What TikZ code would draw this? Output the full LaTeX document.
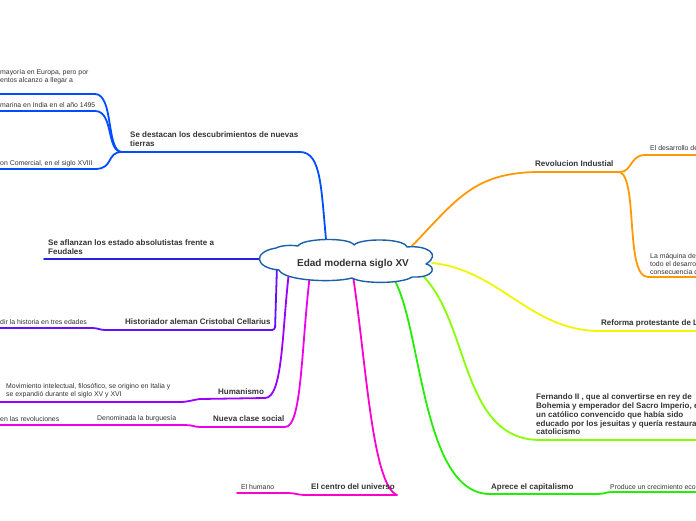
\documentclass[tikz,border=0pt]{standalone}
\usepackage{fontspec}
\setmainfont{Liberation Sans}
\definecolor{cBlue}{RGB}{0,76,255}
\definecolor{cDarkBlue}{RGB}{36,36,222}
\definecolor{cViolet}{RGB}{96,16,255}
\definecolor{cPurple}{RGB}{153,0,255}
\definecolor{cMagenta}{RGB}{236,0,236}
\definecolor{cPink}{RGB}{255,0,204}
\definecolor{cGreen}{RGB}{34,238,0}
\definecolor{cLime}{RGB}{136,255,0}
\definecolor{cYellow}{RGB}{240,245,0}
\definecolor{cOrange}{RGB}{255,153,0}
\definecolor{cCloud}{RGB}{25,95,170}
\definecolor{tgray}{RGB}{51,51,51}
\tikzset{
  branch/.style={line width=1.8pt, line cap=round, line join=round},
  topic/.style={font=\bfseries\fontsize{8}{9}\selectfont, text=tgray, inner sep=0pt, anchor=west, align=left},
  sub/.style={font=\fontsize{6.9}{8}\selectfont, text=tgray, inner sep=0pt, anchor=west, align=left},
  cloudline/.style={draw=cCloud, fill=white, line width=1.4pt, line join=round}
}
\begin{document}
\begin{tikzpicture}[x=1pt,y=-1pt]
\useasboundingbox (0,0) rectangle (696,520);

% ---------- anchor coordinates ----------
\coordinate (cTop) at (327,250);
\coordinate (cLeft) at (272,259);
\coordinate (cCell) at (277,266);
\coordinate (cHum) at (289,272);
\coordinate (cNue) at (310,274);
\coordinate (cCen) at (353,276);
\coordinate (cCap) at (392,276);
\coordinate (cFer) at (421,274);
\coordinate (cRef) at (432,263);
\coordinate (cRev) at (405,253);

\coordinate (bDesc) at (122,152);
\coordinate (bRev) at (620,172);

% ---------- connectors ----------
% blue: descubrimientos
\draw[branch, cBlue] (cTop) .. controls (321,190) and (322,152) .. (300,152) -- (bDesc);
\draw[branch, cBlue] (bDesc) .. controls (106,152) and (114,94) .. (95,94) -- (0,94);
\draw[branch, cBlue] (bDesc) .. controls (106,152) and (114,111) .. (95,111) -- (0,111);
\draw[branch, cBlue] (bDesc) .. controls (106,152) and (114,169) .. (95,169) -- (0,169);
% dark blue: absolutistas
\draw[branch, cDarkBlue] (cLeft) -- (44,259);
% violet: Cellarius
\draw[branch, cViolet, rounded corners=3pt] (cCell) -- (275,330) -- (105,330);
\draw[branch, cViolet] (105,330) .. controls (100,330) and (98,328) .. (92,328) -- (0,328);
% purple: Humanismo
\draw[branch, cPurple] (cHum) .. controls (282,330) and (283,398) .. (265,398) -- (200,399)
   .. controls (192,400) and (188,402) .. (180,402) -- (0,402);
% magenta: Nueva clase social
\draw[branch, cMagenta] (cNue) .. controls (301,350) and (302,427) .. (285,427) -- (200,427)
   .. controls (195,427) and (192,425) .. (185,425) -- (0,425);
% pink: El centro del universo
\draw[branch, cPink] (cCen) .. controls (366,360) and (372,485) .. (397,495) -- (305,495)
   .. controls (298,495) and (295,493) .. (288,493) -- (237,493);
% green: capitalismo
\draw[branch, cGreen] (cCap) .. controls (422,320) and (420,494) .. (490,494) -- (598,494)
   .. controls (604,494) and (606,492) .. (612,492) -- (696,492);
% lime: Fernando II
\draw[branch, cLime] (cFer) .. controls (470,320) and (460,440) .. (540,440) -- (696,440);
% yellow: Reforma
\draw[branch, cYellow] (cRef) .. controls (500,270) and (530,331) .. (600,331) -- (696,331);
% orange: Revolucion Industrial
\draw[branch, cOrange] (cRev) .. controls (455,203) and (470,172) .. (540,172) -- (bRev);
\draw[branch, cOrange] (bRev) .. controls (632,172) and (630,155) .. (645,155) -- (696,155);
\draw[branch, cOrange] (bRev) .. controls (638,180) and (625,277) .. (648,277) -- (696,277);

% ---------- central cloud ----------
\path[cloudline] (298,246)
   .. controls (302,238) and (350,237) .. (354,245)
   .. controls (360,238) and (404,238) .. (407,247)
   .. controls (426,245) and (442,254) .. (426,264)
   .. controls (436,266) and (436,278) .. (412,277)
   .. controls (402,284) and (362,284) .. (352,278)
   .. controls (334,283) and (284,281) .. (279,270)
   .. controls (255,268) and (252,252) .. (276,248)
   .. controls (282,245) and (292,245) .. cycle;
\node[font=\bfseries\fontsize{10}{12}\selectfont, text=tgray, inner sep=0pt] (title) at (353,264) {Edad moderna siglo XV};

% ---------- topic labels ----------
\node[topic] (desc) at (130,139.5) {Se destacan los descubrimientos de nuevas\\tierras};
\node[topic] (abs) at (48,247.5) {Se aflanzan los estado absolutistas frente a\\Feudales};
\node[topic] (cell) at (125,322) {Historiador aleman Cristobal Cellarius};
\node[topic] (hum) at (218,392) {Humanismo};
\node[topic] (nueva) at (213,419) {Nueva clase social};
\node[topic] (centro) at (311,487) {El centro del universo};
\node[topic] (capit) at (491,487) {Aprece el capitalismo};
\node[topic, font=\bfseries\fontsize{8}{8.8}\selectfont] (fern) at (536,414.5) {Fernando II , que al convertirse en rey de\\Bohemia y emperador del Sacro Imperio, e\\un católico convencido que había sido\\educado por los jesuitas y quería restaura\\catolicismo};
\node[topic] (refo) at (601,323) {Reforma protestante de L};
\node[topic] (rev) at (535,164) {Revolucion Industial};

% ---------- sub labels ----------
\node[sub] (s1) at (0,77) {mayoría en Europa, pero por\\entos alcanzo a llegar a};
\node[sub] (s2) at (0,105) {marina en India en el año 1495};
\node[sub] (s3) at (0,164) {on Comercial, en el siglo XVIII};
\node[sub] (s4) at (0,322) {dir la historia en tres edades};
\node[sub] (s5) at (6,391) {Movimiento intelectual, filosófico, se origino en Italia y\\se expandió durante el siglo XV y XVI};
\node[sub] (s6) at (0,419) {en las revoluciones};
\node[sub] (s7) at (97,419) {Denominada la burguesía};
\node[sub] (s8) at (241,487) {El humano};
\node[sub] (s9) at (610,487) {Produce un crecimiento eco};
\node[sub] (s10) at (650,148) {El desarrollo de};
\node[sub] (s11) at (650,264) {La máquina de\\todo el desarro\\consecuencia d};
\end{tikzpicture}
\end{document}
